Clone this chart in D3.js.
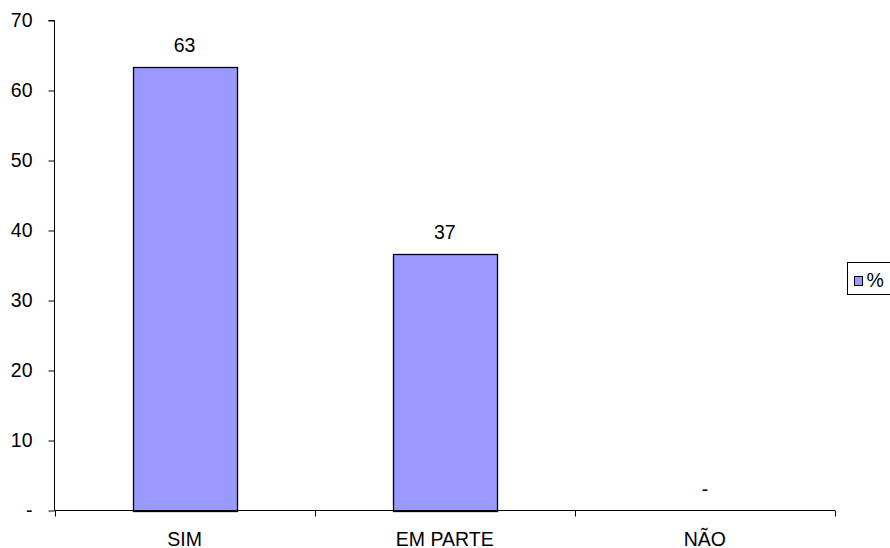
<!DOCTYPE html>
<html>
<head>
<meta charset="utf-8">
<script src="https://cdn.jsdelivr.net/npm/d3@7"></script>
<style>
  html, body { margin: 0; padding: 0; background: #fff; }
  svg { display: block; font-family: "Liberation Sans", Arial, sans-serif; }
</style>
</head>
<body>
<svg id="chart" width="890" height="548"></svg>
<script>
// Survey answers (percent of respondents)
const categories = ["SIM", "EM PARTE", "NÃO"];
const values = [63.3, 36.7, 0];
const yTicks = [0, 10, 20, 30, 40, 50, 60, 70];
const seriesName = "%";

const svg = d3.select("#chart");
const margin = { left: 54.5, right: 55, top: 20.5, bottom: 37.5 };
const W = 890, H = 548;
const fontSize = 19.5;
const fmt = v => (Math.round(v) === 0 ? "-" : d3.format(".0f")(v));

const x = d3.scaleBand()
  .domain(categories)
  .range([margin.left, W - margin.right])
  .paddingInner(0.6)
  .paddingOuter(0.3);

const y = d3.scaleLinear()
  .domain([0, 70])
  .range([H - margin.bottom, margin.top]);

// Bars
svg.append("g")
  .selectAll("rect")
  .data(values.map((v, i) => ({ c: categories[i], v })))
  .join("rect")
  .attr("x", d => Math.round(x(d.c)) + 0.5)
  .attr("y", d => Math.round(y(d.v)) + 0.5)
  .attr("width", Math.round(x.bandwidth()))
  .attr("height", d => Math.round(y(0)) - Math.round(y(d.v)))
  .attr("fill", "#9999FF")
  .attr("stroke", "#000")
  .attr("stroke-width", 1.3)
  .style("display", d => d.v > 0 ? null : "none");

// Value labels
svg.append("g")
  .selectAll("text")
  .data(values.map((v, i) => ({ c: categories[i], v })))
  .join("text")
  .attr("x", d => x(d.c) + x.bandwidth() / 2)
  .attr("y", d => y(d.v) - 15)
  .attr("text-anchor", "middle")
  .attr("font-size", fontSize)
  .attr("fill", "#000")
  .text(d => fmt(d.v));

// Y axis
const yAxis = svg.append("g")
  .attr("transform", `translate(${margin.left},0)`)
  .call(d3.axisLeft(y).tickValues(yTicks).tickSize(6).tickPadding(16)
    .tickFormat(d => (d === 0 ? "-" : d)));
yAxis.select(".domain").attr("d", `M-6,${y(70)}H0V${y(0)}`);

// X axis with ticks between categories
const xAxis = svg.append("g")
  .attr("transform", `translate(0,${y(0)})`);
const xEdges = [margin.left].concat(categories.map(c => x(c) + x.bandwidth() / 2 + x.step() / 2));
xAxis.append("path")
  .attr("d", `M${margin.left},0H${W - margin.right}`)
  .attr("stroke", "#000").attr("fill", "none");
xAxis.selectAll("line.sep")
  .data(xEdges)
  .join("line")
  .attr("class", "sep")
  .attr("x1", d => Math.round(d) + 0.5).attr("x2", d => Math.round(d) + 0.5)
  .attr("y1", 0).attr("y2", 6)
  .attr("stroke", "#000");
xAxis.selectAll("text")
  .data(categories)
  .join("text")
  .attr("x", d => x(d) + x.bandwidth() / 2)
  .attr("y", 35.5)
  .attr("text-anchor", "middle")
  .attr("font-size", fontSize)
  .attr("fill", "#000")
  .text(d => d);

svg.selectAll(".tick text").attr("font-size", fontSize)
  .attr("font-family", "Liberation Sans, Arial, sans-serif").attr("fill", "#000");
svg.selectAll(".tick line, .domain").attr("stroke", "#000");

// Legend
const legend = svg.append("g").attr("transform", "translate(847.5,262.5)");
legend.append("rect")
  .attr("width", 60).attr("height", 32)
  .attr("fill", "#fff").attr("stroke", "#000");
legend.append("rect")
  .attr("x", 7).attr("y", 14).attr("width", 8).attr("height", 9)
  .attr("fill", "#9999FF").attr("stroke", "#000");
legend.append("text")
  .attr("x", 19).attr("y", 24)
  .attr("font-size", fontSize)
  .attr("fill", "#000")
  .text(seriesName);
</script>
</body>
</html>
